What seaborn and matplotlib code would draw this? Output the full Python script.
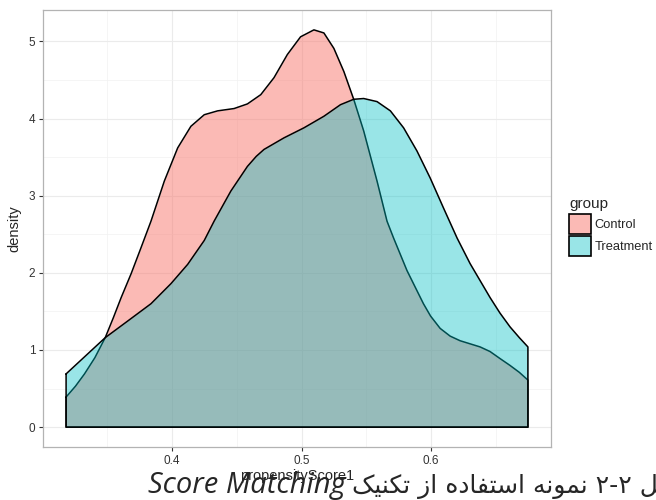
import matplotlib
matplotlib.use('Agg')
import pandas as pd
from matplotlib import pyplot as plt
from matplotlib.patches import Patch
from matplotlib.ticker import MultipleLocator
import seaborn as sns

# Density curves
control_x = [0.3183, 0.3255, 0.3325, 0.3405, 0.3485, 0.3548, 0.3608, 0.3685, 0.3762,
             0.3838, 0.3941, 0.4044, 0.4146, 0.4249, 0.4352, 0.4479, 0.4582, 0.4685,
             0.4787, 0.4890, 0.4992, 0.5095, 0.5172, 0.5249, 0.5326, 0.5402, 0.5479,
             0.5582, 0.5659, 0.5710, 0.5813, 0.5940, 0.5995, 0.6069, 0.6146, 0.6223,
             0.6300, 0.6377, 0.6454, 0.6530, 0.6608, 0.6680, 0.6746]
control_density = [0.39, 0.53, 0.69, 0.90, 1.16, 1.42, 1.68, 1.99, 2.33,
                   2.67, 3.19, 3.62, 3.90, 4.05, 4.10, 4.13, 4.19, 4.31,
                   4.53, 4.83, 5.06, 5.15, 5.11, 4.91, 4.61, 4.25, 3.84,
                   3.19, 2.67, 2.45, 2.03, 1.60, 1.44, 1.28, 1.18, 1.12,
                   1.08, 1.04, 0.98, 0.89, 0.80, 0.71, 0.61]

treatment_x = [0.3183, 0.3485, 0.3662, 0.3838, 0.3992, 0.4121, 0.4249, 0.4325, 0.4454,
               0.4582, 0.4650, 0.4710, 0.4864, 0.5018, 0.5172, 0.5300, 0.5402, 0.5479,
               0.5582, 0.5685, 0.5787, 0.5890, 0.5992, 0.6095, 0.6200, 0.6300, 0.6454,
               0.6530, 0.6608, 0.6680, 0.6746]
treatment_density = [0.69, 1.16, 1.38, 1.60, 1.86, 2.11, 2.42, 2.67, 3.06,
                     3.38, 3.51, 3.60, 3.75, 3.88, 4.03, 4.18, 4.25, 4.26,
                     4.22, 4.10, 3.88, 3.58, 3.23, 2.84, 2.45, 2.12, 1.68,
                     1.48, 1.30, 1.16, 1.04]

groups = ['Control', 'Treatment']
fill_colors = {'Control': '#F8766D', 'Treatment': '#00BFC4'}
fill_alpha = {'Control': 0.5, 'Treatment': 0.4}

x_ticks = [0.4, 0.5, 0.6]
y_ticks = [0, 1, 2, 3, 4, 5]

caption_words = ['شکل', '۲-۲', 'نمونه', 'استفاده', 'از', 'تکنیک']
caption_latin = 'Score Matching'

df = pd.concat([
    pd.DataFrame({'propensityScore1': control_x, 'density': control_density, 'group': 'Control'}),
    pd.DataFrame({'propensityScore1': treatment_x, 'density': treatment_density, 'group': 'Treatment'}),
])

# Arabic letter forms: isolated, final, initial, medial (None = does not join forward)
FORMS = {
    'ا': ('\uFE8D', '\uFE8E', None, None),
    'د': ('\uFEA9', '\uFEAA', None, None),
    'ز': ('\uFEAF', '\uFEB0', None, None),
    'و': ('\uFEED', '\uFEEE', None, None),
    'ش': ('\uFEB5', '\uFEB6', '\uFEB7', '\uFEB8'),
    'س': ('\uFEB1', '\uFEB2', '\uFEB3', '\uFEB4'),
    'ک': ('\uFB8E', '\uFB8F', '\uFB90', '\uFB91'),
    'ل': ('\uFEDD', '\uFEDE', '\uFEDF', '\uFEE0'),
    'ن': ('\uFEE5', '\uFEE6', '\uFEE7', '\uFEE8'),
    'م': ('\uFEE1', '\uFEE2', '\uFEE3', '\uFEE4'),
    'ه': ('\uFEE9', '\uFEEA', '\uFEEB', '\uFEEC'),
    'ت': ('\uFE95', '\uFE96', '\uFE97', '\uFE98'),
    'ف': ('\uFED1', '\uFED2', '\uFED3', '\uFED4'),
    'ی': ('\uFBFC', '\uFBFD', '\uFBFE', '\uFBFF'),
}


def shape(word):
    out = []
    for i, ch in enumerate(word):
        f = FORMS.get(ch)
        if f is None:
            out.append(ch)
            continue
        prev = word[i - 1] if i > 0 else None
        nxt = word[i + 1] if i + 1 < len(word) else None
        join_prev = prev in FORMS and FORMS[prev][2] is not None
        join_next = nxt in FORMS and f[2] is not None
        if join_prev and join_next:
            out.append(f[3])
        elif join_prev:
            out.append(f[1])
        elif join_next:
            out.append(f[2])
        else:
            out.append(f[0])
    return ''.join(reversed(out))


sns.set_style('white')
plt.rcParams['font.family'] = ['Liberation Sans', 'DejaVu Sans']

fig = plt.figure(figsize=(6.56, 5.0), dpi=100)
ax = fig.add_axes([43 / 656, 53 / 500, 508 / 656, 437 / 500])

for i, g in enumerate(groups):
    sub = df[df['group'] == g]
    xs = list(sub['propensityScore1'])
    ys = list(sub['density'])
    ax.fill_between(xs, ys, 0, color=fill_colors[g], alpha=fill_alpha[g],
                    linewidth=0, zorder=2 + 2 * i)
    outline = pd.DataFrame({'x': xs + [xs[-1], xs[0], xs[0]],
                            'y': ys + [0, 0, ys[0]]})
    sns.lineplot(data=outline, x='x', y='y', sort=False, estimator=None,
                 color='black', linewidth=1.1, ax=ax, zorder=3 + 2 * i)

# ggplot-like scale expansion
x_lo, x_hi = df['propensityScore1'].min(), df['propensityScore1'].max()
pad = 0.05 * (x_hi - x_lo)
ax.set_xlim(x_lo - pad, x_hi + pad)
y_hi = df['density'].max()
ax.set_ylim(-0.05 * y_hi, 1.05 * y_hi)

ax.set_xticks(x_ticks)
ax.set_xticklabels([str(t) for t in x_ticks])
ax.set_yticks(y_ticks)
ax.set_yticklabels([str(t) for t in y_ticks])
ax.xaxis.set_minor_locator(MultipleLocator(0.05))
ax.yaxis.set_minor_locator(MultipleLocator(0.5))
ax.grid(True, which='major', color='#EBEBEB', linewidth=0.8, zorder=0)
ax.grid(True, which='minor', color='#F2F2F2', linewidth=0.5, zorder=0)
ax.set_axisbelow(True)
ax.tick_params(which='major', length=3, width=0.8, color='#333333', labelsize=8.5,
               labelcolor='#333333', pad=2.5, bottom=True, left=True)
ax.tick_params(which='minor', length=0)
for s in ax.spines.values():
    s.set_color('#B3B3B3')
    s.set_linewidth(0.9)

ax.set_xlabel('propensityScore1', fontsize=10.5, labelpad=2)
ax.set_ylabel('density', fontsize=10.5, labelpad=5)

handles = []
for g in groups:
    p = Patch(facecolor=fill_colors[g], alpha=fill_alpha[g])
    handles.append(Patch(facecolor=p.get_facecolor(), edgecolor='black', linewidth=1.2))
leg = fig.legend(handles, groups, title='group', loc='upper left',
                 bbox_to_anchor=(569 / 656, 1 - 197 / 500), frameon=False,
                 fontsize=9.3, title_fontsize=11, handlelength=1.7, handleheight=2.0,
                 handletextpad=0.3, labelspacing=0.2, borderpad=0.0, borderaxespad=0.0,
                 alignment='left')

# Caption (right side runs off the image as in the source)
fig.text(346 / 656, 7 / 500, caption_latin, ha='right', va='baseline',
         fontsize=21, style='italic', family=['Open Sans', 'DejaVu Sans'])
caption_ar = ' '.join(shape(w) for w in reversed(caption_words))
fig.text(352 / 656, 7 / 500, caption_ar, ha='left', va='baseline',
         fontsize=18, family=['DejaVu Sans'])

plt.savefig('out.png', dpi=100)
